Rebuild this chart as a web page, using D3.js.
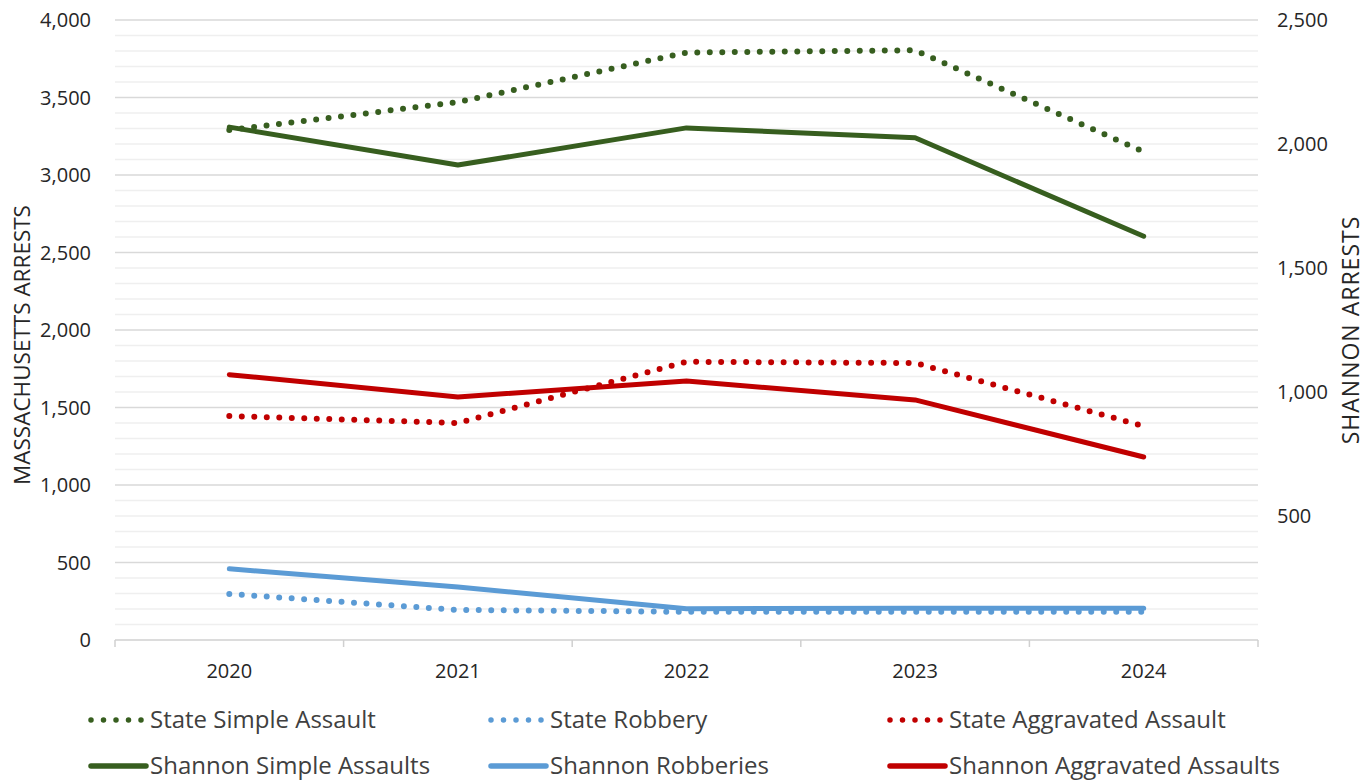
<!DOCTYPE html>
<html>
<head>
<meta charset="utf-8">
<script src="https://cdn.jsdelivr.net/npm/d3@7"></script>
<style>
  body { margin: 0; background: #fff; }
  svg text { font-family: "Open Sans", "Noto Sans", sans-serif; fill: #262626; }
</style>
</head>
<body>
<svg id="chart" width="1371" height="781"></svg>
<script>
var years = ["2020", "2021", "2022", "2023", "2024"];
var leftTicks = [0, 500, 1000, 1500, 2000, 2500, 3000, 3500, 4000];
var rightTicks = [500, 1000, 1500, 2000, 2500];

// state series -> left axis, shannon series -> right axis
var stateSimple = [3290, 3470, 3790, 3805, 3150];
var stateRobbery = [297, 194, 182, 182, 182];
var stateAggravated = [1445, 1400, 1795, 1787, 1380];
var shannonSimple = [2068, 1915, 2065, 2025, 1628];
var shannonRobberies = [287, 214, 126, 128, 128];
var shannonAggravated = [1070, 980, 1044, 968, 738];

var green = "#375e1f", blue = "#5b9bd5", red = "#c00000";

var series = [
    {name: "State Simple Assault", values: stateSimple, color: green, dotted: true, axis: "left"},
    {name: "State Robbery", values: stateRobbery, color: blue, dotted: true, axis: "left"},
    {name: "State Aggravated Assault", values: stateAggravated, color: red, dotted: true, axis: "left"},
    {name: "Shannon Simple Assaults", values: shannonSimple, color: green, dotted: false, axis: "right"},
    {name: "Shannon Robberies", values: shannonRobberies, color: blue, dotted: false, axis: "right"},
    {name: "Shannon Aggravated Assaults", values: shannonAggravated, color: red, dotted: false, axis: "right"}
];

var svg = d3.select("#chart");
var plotLeft = 115, plotRight = 1258, plotTop = 20, plotBottom = 640;

var x = d3.scaleBand().domain(years).range([plotLeft, plotRight]);
var yL = d3.scaleLinear().domain([0, 4000]).range([plotBottom, plotTop]);
var yR = d3.scaleLinear().domain([0, 2500]).range([plotBottom, plotTop]);

// gridlines: minor every 100, major every 500
var grid = svg.append("g");
grid.selectAll("line.minor").data(d3.range(100, 4001, 100).filter(function(d) { return d % 500 != 0; }))
    .enter().append("line")
    .attr("x1", plotLeft).attr("x2", plotRight)
    .attr("y1", function(d) { return yL(d); }).attr("y2", function(d) { return yL(d); })
    .style("stroke", "#efefef").style("stroke-width", 1.5);
grid.selectAll("line.major").data(leftTicks.filter(function(d) { return d > 0; }))
    .enter().append("line")
    .attr("x1", plotLeft).attr("x2", plotRight)
    .attr("y1", function(d) { return yL(d); }).attr("y2", function(d) { return yL(d); })
    .style("stroke", "#d9d9d9").style("stroke-width", 1.5);

// x axis with ticks between categories
var xa = svg.append("g");
xa.append("line").attr("x1", plotLeft).attr("x2", plotRight).attr("y1", plotBottom).attr("y2", plotBottom)
    .style("stroke", "#d0d0d0").style("stroke-width", 1.5);
var bounds = years.map(function(d) { return x(d); }).concat([plotRight]);
xa.selectAll("line.tick").data(bounds).enter().append("line")
    .attr("x1", function(d) { return d; }).attr("x2", function(d) { return d; })
    .attr("y1", plotBottom).attr("y2", plotBottom + 7)
    .style("stroke", "#d0d0d0").style("stroke-width", 1.5);
xa.selectAll("text").data(years).enter().append("text")
    .attr("x", function(d) { return x(d) + x.bandwidth() / 2; })
    .attr("y", 678)
    .attr("text-anchor", "middle")
    .style("font-size", "20px")
    .text(function(d) { return d; });

var fmt = d3.format(",");
svg.append("g").selectAll("text").data(leftTicks).enter().append("text")
    .attr("x", 91).attr("y", function(d) { return yL(d) + 7; })
    .attr("text-anchor", "end").style("font-size", "20px")
    .text(function(d) { return fmt(d); });
svg.append("g").selectAll("text").data(rightTicks).enter().append("text")
    .attr("x", 1277).attr("y", function(d) { return yR(d) + 7; })
    .attr("text-anchor", "start").style("font-size", "20px")
    .text(function(d) { return fmt(d); });

svg.append("text").attr("transform", "translate(30,345) rotate(-90)")
    .attr("text-anchor", "middle").style("font-size", "22.5px").text("MASSACHUSETTS ARRESTS");
svg.append("text").attr("transform", "translate(1359,330) rotate(-90)")
    .attr("text-anchor", "middle").style("font-size", "23px").style("letter-spacing", "1px").text("SHANNON ARRESTS");

// lines
var plot = svg.append("g");
series.forEach(function(s) {
    var ys = s.axis == "left" ? yL : yR;
    var line = d3.line()
        .x(function(d, i) { return x(years[i]) + x.bandwidth() / 2; })
        .y(function(d) { return ys(d); });
    var p = plot.append("path").datum(s.values)
        .attr("d", line)
        .style("fill", "none")
        .style("stroke", s.color)
        .style("stroke-linejoin", "round");
    if (s.dotted) {
        p.style("stroke-width", 6).style("stroke-dasharray", "0 12.5").style("stroke-linecap", "round");
    } else {
        p.style("stroke-width", 5).style("stroke-linecap", "round");
    }
});

// legend
var legCols = [88, 488, 887], legRows = [720, 766];
var leg = svg.append("g");
series.forEach(function(s, i) {
    var cx = legCols[i % 3], cy = legRows[Math.floor(i / 3)];
    var l = leg.append("line").attr("x1", cx + 3).attr("x2", cx + 58).attr("y1", cy).attr("y2", cy)
        .style("stroke", s.color).style("stroke-linecap", "round");
    if (s.dotted) l.style("stroke-width", 5.5).style("stroke-dasharray", "0 12.5");
    else l.style("stroke-width", 5.5);
    leg.append("text").attr("x", cx + 62).attr("y", cy + 8)
        .style("font-size", "24px").style("fill", "#404040")
        .text(s.name);
});
</script>
</body>
</html>
